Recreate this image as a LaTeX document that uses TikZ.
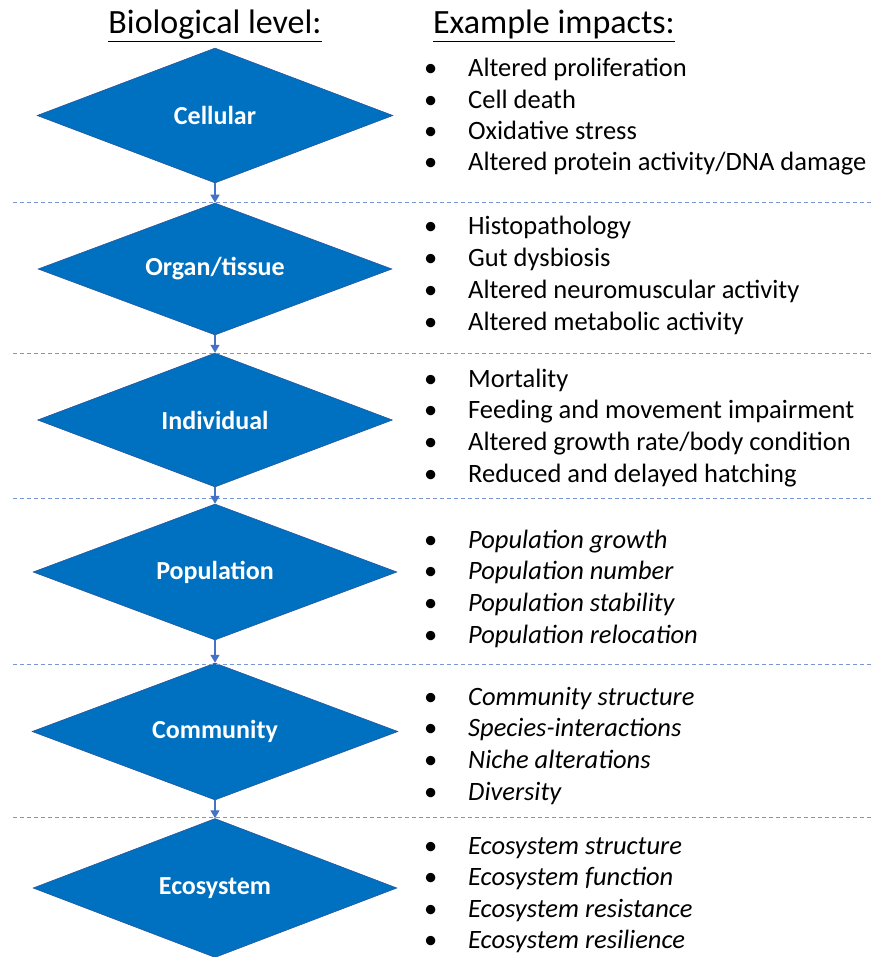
\documentclass[tikz,border=0pt]{standalone}
\usepackage{fontspec}
\setmainfont{Carlito}
\usetikzlibrary{shapes.geometric,arrows.meta}
\definecolor{lvlblue}{RGB}{0,112,192}
\definecolor{lvledge}{RGB}{40,80,150}
\definecolor{sepblue}{RGB}{120,150,215}
\definecolor{arrblue}{RGB}{68,114,196}

\begin{document}
\begin{tikzpicture}[x=1pt,y=-1pt,
	level/.style={diamond, aspect=2.6, fill=lvlblue, draw=lvledge, line width=0.5pt, inner sep=0pt,
		minimum width=356pt, minimum height=135pt, text=white, font=\fontsize{26}{30}\selectfont\bfseries},
	sep/.style={sepblue, line width=1pt, dash pattern=on 4pt off 3pt},
	flow/.style={arrblue, line width=1.3pt, -{Triangle[width=9pt,length=8pt]}},
	head/.style={anchor=base, inner sep=0pt, font=\fontsize{34}{40}\selectfont},
	impact/.style={anchor=base west, inner sep=0pt, font=\fontsize{26.5}{30}\selectfont},
	impactit/.style={impact, font=\fontsize{26.5}{30}\selectfont\itshape}]
	\useasboundingbox (0,0) rectangle (874,957);

	\node[head] (hlevel) at (215,34) {\underline{Biological level:}};
	\node[head] (himpact) at (554,34) {\underline{Example impacts:}};

	% biological levels
	\node[level] (cell) at (215,115.5) {Cellular};
	\node[level, minimum width=354pt, minimum height=132pt] (organ) at (215,269) {Organ/tissue};
	\node[level, minimum width=355pt, minimum height=134pt] (indiv) at (215,420) {Individual};
	\node[level, minimum width=364pt, minimum height=136pt] (pop) at (215,572) {Population};
	\node[level, minimum width=366pt, minimum height=137pt] (comm) at (215,731.5) {Community};
	\node[level, minimum width=364pt, minimum height=139pt] (eco) at (215,888) {Ecosystem};

	% separators
	\foreach \yy in {203, 353, 498, 664, 817}
		\draw[sep] (13,\yy) -- (874,\yy);

	\draw[flow] (cell.south) -- (organ.north);
	\draw[flow] (organ.south) -- (indiv.north);
	\draw[flow] (indiv.south) -- (pop.north);
	\draw[flow] (pop.south) -- (comm.north);
	\draw[flow] (comm.south) -- (eco.north);

	% example impacts
	\foreach \t [count=\i] in {Altered proliferation, Cell death, Oxidative stress, Altered protein activity/DNA damage}
		\node[impact] (cell-\i) at (424,{77+31.3*(\i-1)}) {\makebox[44pt][l]{\textbullet}\t};
	\foreach \t [count=\i] in {Histopathology, Gut dysbiosis, Altered neuromuscular activity, Altered metabolic activity}
		\node[impact] (organ-\i) at (424,{235+31.7*(\i-1)}) {\makebox[44pt][l]{\textbullet}\t};
	\foreach \t [count=\i] in {Mortality, Feeding and movement impairment, Altered growth rate/body condition, Reduced and delayed hatching}
		\node[impact] (indiv-\i) at (424,{387+31.7*(\i-1)}) {\makebox[44pt][l]{\textbullet}\t};
	\foreach \t [count=\i] in {Population growth, Population number, Population stability, Population relocation}
		\node[impactit] (pop-\i) at (424,{548+31.7*(\i-1)}) {\makebox[44pt][l]{\upshape\textbullet}\t};
	\foreach \t [count=\i] in {Community structure, Species-interactions, Niche alterations, Diversity}
		\node[impactit] (comm-\i) at (424,{705+31.7*(\i-1)}) {\makebox[44pt][l]{\upshape\textbullet}\t};
	\foreach \t [count=\i] in {Ecosystem structure, Ecosystem function, Ecosystem resistance, Ecosystem resilience}
		\node[impactit] (eco-\i) at (424,{854+31.5*(\i-1)}) {\makebox[44pt][l]{\upshape\textbullet}\t};
\end{tikzpicture}
\end{document}
